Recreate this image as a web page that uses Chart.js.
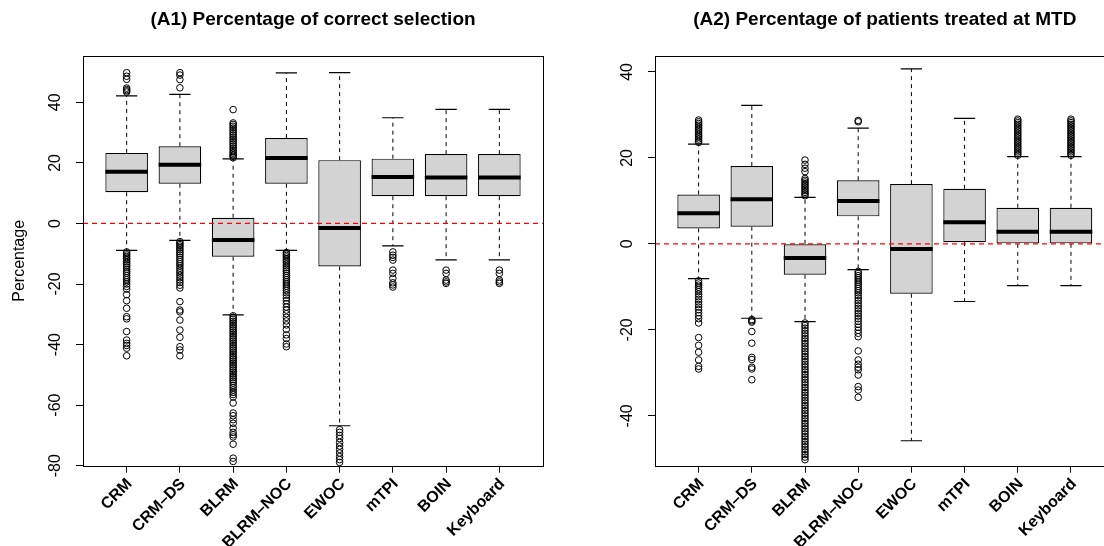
<!DOCTYPE html>
<html><head><meta charset="utf-8">
<script src="https://cdn.jsdelivr.net/npm/chart.js@4.4.1/dist/chart.umd.min.js"></script>
<style>
html,body{margin:0;padding:0;background:#fff;overflow:hidden;width:1104px;height:546px}
#wrap{position:relative;width:1104px;height:546px;overflow:hidden;background:#fff}
#c1{position:absolute;left:0;top:0}
#c2{position:absolute;left:552px;top:0}
</style></head><body>
<div id="wrap"><canvas id="c1" width="552" height="546"></canvas><canvas id="c2" width="580" height="546"></canvas></div>
<script>
// ---------- data ----------
const categories = ["CRM", "CRM\u2013DS", "BLRM", "BLRM\u2013NOC", "EWOC", "mTPI", "BOIN", "Keyboard"];

// Panel A1: Percentage of correct selection
const titleA = "(A1) Percentage of correct selection";
const yTicksA = [-80, -60, -40, -20, 0, 20, 40];
const yRangeA = [-80, 55.3];
const q1A  = [10.3, 13.1, -11.0, 13.1, -14.2,  9.0,  9.0,  9.0];
const medA = [17.1, 19.4,  -5.5, 21.6,  -1.5, 15.3, 15.2, 15.2];
const q3A  = [23.3, 25.5,   1.9, 28.2,  20.9, 21.4, 22.9, 22.9];
const loA  = [-8.9, -5.6, -30.2, -8.9, -66.8, -7.4, -12.0, -12.0];
const hiA  = [42.1, 42.6,  21.3, 49.7,  49.8, 34.9, 37.7, 37.7];
const outA_CRM = [43.4, 43.8, 44.2, 44.7, 47.6, 48.6, 49.8,
  -9.4, -9.9, -10.4, -10.9, -11.5, -12.0, -12.6, -13.2, -13.8, -14.4, -15.1, -15.8, -16.4, -17.2, -17.9,
  -18.6, -19.3, -20.0, -20.8, -21.7, -23.5, -25.5, -28.0, -30.8, -31.5, -35.7, -38.5, -39.6, -40.3, -41.2, -43.7];
const outA_CRMDS = [44.8, 47.5, 49.0, 49.8,
  -6.0, -6.5, -7.0, -7.5, -8.1, -8.7, -9.3, -9.9, -10.5, -11.2, -11.9, -12.6, -13.3, -14.0, -14.8, -15.6,
  -16.3, -17.1, -17.9, -18.7, -19.5, -20.4, -21.3, -25.8, -28.6, -29.2, -31.9, -35.2, -37.6, -40.7, -41.8, -43.7];
const outA_BLRM = [21.7, 22.2, 22.7, 23.2, 23.7, 24.3, 24.9, 25.5, 26.1, 26.7, 27.3, 27.9, 28.5, 29.1, 29.7,
  30.3, 30.9, 31.5, 32.1, 32.7, 33.2, 37.6,
  -30.5, -31.1, -31.7, -32.3, -32.9, -33.5, -34.1, -34.7, -35.3, -35.9, -36.5, -37.1, -37.7, -38.3, -38.9,
  -39.5, -40.1, -40.7, -41.3, -41.9, -42.5, -43.1, -43.7, -44.3, -44.9, -45.5, -46.1, -46.7, -47.3, -47.9,
  -48.5, -49.1, -49.7, -50.3, -50.9, -51.5, -52.1, -52.7, -53.5, -54.2, -55.0, -55.8, -56.5, -57.3, -59.3,
  -62.6, -63.5, -64.8, -66.0, -67.6, -69.0, -69.8, -70.5, -72.9, -77.5, -78.6];
const outA_BLRMNOC = [-9.6, -10.1, -10.6, -11.1, -11.7, -12.2, -12.8, -13.4, -14.0, -14.6, -15.2, -15.8, -16.5,
  -17.2, -17.9, -18.6, -19.3, -20.0, -20.7, -21.4, -22.1, -22.9, -23.7, -24.6, -25.5, -26.5, -27.6, -28.6,
  -29.8, -31.0, -32.2, -33.5, -35.0, -36.8, -38.0, -39.8, -40.7];
const outA_EWOC = [-68.1, -69.0, -70.0, -71.0, -72.3, -73.5, -74.6, -75.8, -77.0, -78.0, -78.9];
const outA_mTPI = [-9.4, -10.5, -11.2, -12.1, -15.4, -16.5, -18.1, -19.6, -20.3, -21.0];
const outA_BOIN = [-15.4, -16.5, -18.7, -19.3, -19.8];
const outA_Keyboard = [-15.4, -16.5, -18.7, -19.3, -19.8];
const outliersA = [outA_CRM, outA_CRMDS, outA_BLRM, outA_BLRMNOC, outA_EWOC, outA_mTPI, outA_BOIN, outA_Keyboard];

// Panel A2: Percentage of patients treated at MTD
const titleB = "(A2) Percentage of patients treated at MTD";
const yTicksB = [-40, -20, 0, 20, 40];
const yRangeB = [-51.6, 43.7];
const q1B  = [ 3.6,  4.0, -7.2,  6.4, -11.6,  0.4,  0.0,  0.0];
const medB = [ 7.1, 10.4, -3.3, 10.0,  -1.2,  5.0,  2.8,  2.8];
const q3B  = [11.5, 18.1,  0.0, 14.8,  13.9, 12.8,  8.4,  8.4];
const loB  = [-8.1, -17.3, -18.1, -6.0, -45.8, -13.4, -9.7, -9.7];
const hiB  = [23.2, 32.2,  10.8, 26.9,  40.7, 29.2, 20.3, 20.3];
const outB_CRM = [23.6, 24.0, 24.4, 24.8, 25.2, 25.6, 26.0, 26.4, 26.8, 27.2, 27.6, 28.0, 28.4, 28.8,
  -8.6, -9.1, -9.6, -10.1, -10.6, -11.1, -11.7, -12.3, -12.9, -13.5, -14.1, -14.7, -15.3, -16.0, -16.7,
  -17.4, -18.4, -21.8, -23.6, -25.2, -27.0, -28.5, -29.1];
const outB_CRMDS = [-17.6, -17.9, -18.2, -20.4, -23.1, -26.4, -26.9, -28.7, -29.1, -31.6];
const outB_BLRM = [11.2, 11.6, 12.0, 12.4, 12.8, 13.2, 13.6, 14.0, 14.4, 14.8, 15.2, 16.8, 17.6, 18.5, 19.5,
  -18.4, -19.0, -19.6, -20.2, -20.8, -21.4, -22.0, -22.6, -23.2, -23.8, -24.4, -25.0, -25.6, -26.2, -26.8,
  -27.4, -28.0, -28.6, -29.2, -29.8, -30.4, -31.0, -31.6, -32.2, -32.8, -33.4, -34.0, -34.6, -35.2, -35.8,
  -36.4, -37.0, -37.6, -38.2, -38.8, -39.4, -40.0, -40.6, -41.2, -41.8, -42.4, -43.0, -43.6, -44.2, -44.8,
  -45.4, -46.0, -46.6, -47.2, -47.8, -48.4, -49.0, -49.6, -50.2];
const outB_BLRMNOC = [28.4, 28.7,
  -6.4, -6.9, -7.4, -7.9, -8.4, -8.9, -9.4, -9.9, -10.4, -10.9, -11.4, -12.0, -12.6, -13.2, -13.8, -14.4,
  -15.0, -15.6, -16.2, -16.8, -17.4, -18.0, -18.7, -19.4, -20.1, -20.8, -21.6, -24.9, -27.0, -28.0, -28.7,
  -29.3, -30.5, -33.2, -34.0, -35.7];
const outB_EWOC = [];
const outB_mTPI = [];
const outB_BOIN = [20.6, 21.0, 21.4, 21.8, 22.2, 22.6, 23.0, 23.4, 23.8, 24.2, 24.6, 25.0, 25.4, 25.8, 26.2,
  26.6, 27.0, 27.4, 27.8, 28.2, 28.6, 29.0];
const outB_Keyboard = [20.6, 21.0, 21.4, 21.8, 22.2, 22.6, 23.0, 23.4, 23.8, 24.2, 24.6, 25.0, 25.4, 25.8, 26.2,
  26.6, 27.0, 27.4, 27.8, 28.2, 28.6, 29.0];
const outliersB = [outB_CRM, outB_CRMDS, outB_BLRM, outB_BLRMNOC, outB_EWOC, outB_mTPI, outB_BOIN, outB_Keyboard];

const refValue = 0;
const yLabel = "Percentage";

// ---------- drawing ----------
const FAM = "'Liberation Sans', Arial, Helvetica, sans-serif";
const xRange = [0.18, 8.82];
const boxHalf = 0.4, capHalf = 0.2;

const framePlugin = {
  id: 'frame',
  afterDraw(chart) {
    const {ctx, chartArea: a} = chart;
    ctx.save();
    ctx.strokeStyle = '#000';
    ctx.lineWidth = 1;
    ctx.strokeRect(Math.round(a.left) + 0.5, Math.round(a.top) + 0.5,
      Math.round(a.right) - Math.round(a.left), Math.round(a.bottom) - Math.round(a.top));
    ctx.restore();
  }
};

function makeChart(canvasId, title, q1, med, q3, lo, hi, outs, yTicks, yRange, showYLabel, yAxisWidth, padRight) {
  const boxes = [], medPts = [], whPts = [], capPts = [], outPts = [];
  categories.forEach((c, i) => {
    const x = i + 1;
    boxes.push({x: x, y: [q1[i], q3[i]]});
    medPts.push({x: x - boxHalf, y: med[i]}, {x: x + boxHalf, y: med[i]}, {x: x + boxHalf, y: null});
    whPts.push({x: x, y: q3[i]}, {x: x, y: hi[i]}, {x: x, y: null},
               {x: x, y: q1[i]}, {x: x, y: lo[i]}, {x: x, y: null});
    capPts.push({x: x - capHalf, y: hi[i]}, {x: x + capHalf, y: hi[i]}, {x: x + capHalf, y: null},
                {x: x - capHalf, y: lo[i]}, {x: x + capHalf, y: lo[i]}, {x: x + capHalf, y: null});
    outs[i].forEach(v => outPts.push({x: x, y: v}));
  });
  const lineBase = {type: 'line', pointRadius: 0, pointHoverRadius: 0, spanGaps: false, tension: 0, fill: false};
  return new Chart(document.getElementById(canvasId), {
    type: 'bar',
    data: {
      datasets: [
        Object.assign({}, lineBase, {order: 0, data: [{x: xRange[0], y: refValue}, {x: xRange[1], y: refValue}],
          borderColor: '#ff0000', borderWidth: 1.2, borderDash: [5, 4]}),
        {type: 'line', order: 1, data: outPts, showLine: false, pointStyle: 'circle', pointRadius: 3.3,
          pointHoverRadius: 3.3, pointBorderWidth: 1, pointBorderColor: '#000', pointBackgroundColor: 'rgba(0,0,0,0)', clip: false},
        Object.assign({}, lineBase, {order: 2, data: medPts, borderColor: '#000', borderWidth: 4, borderCapStyle: 'butt'}),
        {type: 'bar', order: 3, data: boxes, backgroundColor: '#d3d3d3', borderColor: '#000', borderWidth: 1.2,
          borderSkipped: false, categoryPercentage: 0.8, barPercentage: 1, grouped: false},
        Object.assign({}, lineBase, {order: 4, data: capPts, borderColor: '#000', borderWidth: 1.2}),
        Object.assign({}, lineBase, {order: 5, data: whPts, borderColor: '#000', borderWidth: 1, borderDash: [4, 4]})
      ]
    },
    options: {
      responsive: false, animation: false, devicePixelRatio: 1, events: [],
      layout: {padding: {left: 0, right: padRight, top: 0, bottom: 0}},
      plugins: {
        legend: {display: false}, tooltip: {enabled: false},
        title: {display: true, text: title, fullSize: false, color: '#000',
          font: {family: FAM, size: 19, weight: 'bold', lineHeight: 1.2}, padding: {top: 8.5, bottom: 24.7}}
      },
      scales: {
        x: {
          type: 'linear', min: xRange[0], max: xRange[1], offset: false,
          afterBuildTicks: s => { s.ticks = categories.map((c, i) => ({value: i + 1})); },
          afterFit: s => { s.height = 80.3; },
          grid: {display: true, drawOnChartArea: false, drawTicks: true, tickLength: 7, color: '#000', offset: false},
          border: {display: false},
          ticks: {autoSkip: false, minRotation: 45, maxRotation: 45, color: '#000', padding: 2, labelOffset: 3,
            font: {family: FAM, size: 16, weight: 'bold'},
            callback: v => categories[Math.round(v) - 1]}
        },
        y: {
          type: 'linear', min: yRange[0], max: yRange[1],
          afterBuildTicks: s => { s.ticks = yTicks.map(v => ({value: v})); },
          afterFit: s => { s.width = yAxisWidth; },
          grid: {display: true, drawOnChartArea: false, drawTicks: true, tickLength: 7, color: '#000'},
          border: {display: false},
          ticks: {minRotation: 90, maxRotation: 90, crossAlign: 'center', padding: 9, color: '#000',
            font: {family: FAM, size: 16}, callback: v => String(v)},
          title: {display: showYLabel, text: yLabel, color: '#000', font: {family: FAM, size: 16}, padding: {top: 10.4, bottom: 0}}
        }
      }
    },
    plugins: [framePlugin]
  });
}

makeChart('c1', titleA, q1A, medA, q3A, loA, hiA, outliersA, yTicksA, yRangeA, true, 83, 9);
makeChart('c2', titleB, q1B, medB, q3B, loB, hiB, outliersB, yTicksB, yRangeB, false, 103, 17.4);
</script>
</body></html>
